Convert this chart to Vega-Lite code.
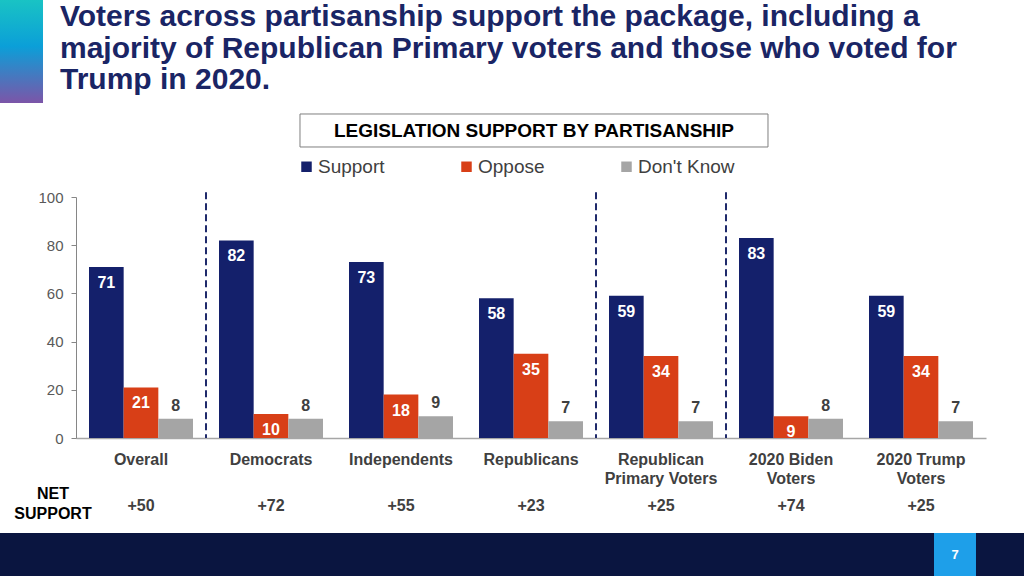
{
  "$schema": "https://vega.github.io/schema/vega-lite/v6.json",
  "width": 910,
  "height": 241,
  "autosize": {"type": "none"},
  "padding": {"left": 76, "top": 197, "right": 38, "bottom": 138},
  "background": "white",
  "config": {"view": {"stroke": null}, "font": "Liberation Sans"},
  "datasets": {
    "bars": [
      {"group": "Overall", "type": "Support", "value": 71},
      {"group": "Overall", "type": "Oppose", "value": 21},
      {"group": "Overall", "type": "Don't Know", "value": 8},
      {"group": "Democrats", "type": "Support", "value": 82},
      {"group": "Democrats", "type": "Oppose", "value": 10},
      {"group": "Democrats", "type": "Don't Know", "value": 8},
      {"group": "Independents", "type": "Support", "value": 73},
      {"group": "Independents", "type": "Oppose", "value": 18},
      {"group": "Independents", "type": "Don't Know", "value": 9},
      {"group": "Republicans", "type": "Support", "value": 58},
      {"group": "Republicans", "type": "Oppose", "value": 35},
      {"group": "Republicans", "type": "Don't Know", "value": 7},
      {"group": "Republican Primary Voters", "type": "Support", "value": 59},
      {"group": "Republican Primary Voters", "type": "Oppose", "value": 34},
      {"group": "Republican Primary Voters", "type": "Don't Know", "value": 7},
      {"group": "2020 Biden Voters", "type": "Support", "value": 83},
      {"group": "2020 Biden Voters", "type": "Oppose", "value": 9},
      {"group": "2020 Biden Voters", "type": "Don't Know", "value": 8},
      {"group": "2020 Trump Voters", "type": "Support", "value": 59},
      {"group": "2020 Trump Voters", "type": "Oppose", "value": 34},
      {"group": "2020 Trump Voters", "type": "Don't Know", "value": 7}
    ],
    "net": [
      {"group": "Overall", "net": 50},
      {"group": "Democrats", "net": 72},
      {"group": "Independents", "net": 55},
      {"group": "Republicans", "net": 23},
      {"group": "Republican Primary Voters", "net": 25},
      {"group": "2020 Biden Voters", "net": 74},
      {"group": "2020 Trump Voters", "net": 25}
    ],
    "separators": [
      {"group": "Democrats"},
      {"group": "Republican Primary Voters"},
      {"group": "2020 Biden Voters"}
    ]
  },
  "layer": [
    {
      "layer": [
        {
          "data": {"name": "bars"},
          "mark": {"type": "bar"},
          "encoding": {
            "x": {
              "field": "group", "type": "nominal", "title": null,
              "scale": {"domain": ["Overall", "Democrats", "Independents", "Republicans", "Republican Primary Voters", "2020 Biden Voters", "2020 Trump Voters"], "paddingInner": 0.2, "paddingOuter": 0.1},
              "axis": {
                "labelAngle": 0, "ticks": false, "labelFontSize": 16, "labelFontWeight": "bold",
                "labelColor": "#404040", "labelPadding": 13, "labelLineHeight": 19, "labelLimit": 0,
                "domainColor": "#a6a6a6", "domainWidth": 1.5, "labelBaseline": "top",
                "labelExpr": "datum.value == 'Republican Primary Voters' ? ['Republican', 'Primary Voters'] : datum.value == '2020 Biden Voters' ? ['2020 Biden', 'Voters'] : datum.value == '2020 Trump Voters' ? ['2020 Trump', 'Voters'] : datum.value"
              }
            },
            "xOffset": {"field": "type", "type": "nominal", "scale": {"domain": ["Support", "Oppose", "Don't Know"], "paddingInner": 0, "paddingOuter": 0}},
            "y": {
              "field": "value", "type": "quantitative", "title": null,
              "scale": {"domain": [0, 100], "nice": false},
              "axis": {"values": [0, 20, 40, 60, 80, 100], "grid": false, "labelFontSize": 15, "labelColor": "#595959", "domainColor": "#868686", "tickColor": "#868686", "tickSize": 5, "labelPadding": 8}
            },
            "color": {
              "field": "type", "type": "nominal",
              "scale": {"domain": ["Support", "Oppose", "Don't Know"], "range": ["#14206b", "#d83f17", "#a5a5a5"]},
              "legend": {
                "orient": "none", "legendX": 221, "legendY": -40, "direction": "horizontal", "columns": 3,
                "gridAlign": "all", "columnPadding": 42, "title": null, "symbolType": "square", "symbolSize": 110,
                "labelFontSize": 19, "labelColor": "#404040", "symbolStrokeWidth": 0, "labelOffset": 2, "padding": 0
              }
            }
          }
        },
        {
          "data": {"name": "bars"},
          "transform": [{"filter": "datum.type != \"Don't Know\""}],
          "mark": {"type": "text", "color": "white", "fontSize": 16, "fontWeight": "bold", "baseline": "middle", "dy": 16},
          "encoding": {
            "x": {"field": "group", "type": "nominal", "title": null},
            "xOffset": {"field": "type", "type": "nominal"},
            "y": {"field": "value", "type": "quantitative"},
            "text": {"field": "value", "type": "quantitative"}
          }
        },
        {
          "data": {"name": "bars"},
          "transform": [{"filter": "datum.type == \"Don't Know\""}],
          "mark": {"type": "text", "color": "#404040", "fontSize": 16, "fontWeight": "bold", "baseline": "middle", "dy": -13},
          "encoding": {
            "x": {"field": "group", "type": "nominal", "title": null},
            "xOffset": {"field": "type", "type": "nominal"},
            "y": {"field": "value", "type": "quantitative"},
            "text": {"field": "value", "type": "quantitative"}
          }
        },
        {
          "data": {"name": "net"},
          "mark": {"type": "text", "color": "#404040", "fontSize": 16, "fontWeight": "bold", "baseline": "middle"},
          "encoding": {
            "x": {"field": "group", "type": "nominal", "title": null},
            "y": {"datum": -28.2},
            "text": {"field": "net", "type": "quantitative", "format": "+d"}
          }
        },
        {
          "data": {"name": "separators"},
          "mark": {"type": "rule", "color": "#1f2a6b", "strokeWidth": 2, "strokeDash": [7, 4]},
          "encoding": {
            "x": {"field": "group", "type": "nominal", "title": null, "bandPosition": -0.125},
            "y": {"datum": 102},
            "y2": {"datum": 0}
          }
        }
      ]
    },
    {
      "layer": [
        {
          "data": {"values": [{}]},
          "mark": {"type": "rect", "color": {"gradient": "linear", "x1": 0, "y1": 0, "x2": 0, "y2": 1, "stops": [{"offset": 0, "color": "#19c3c4"}, {"offset": 0.45, "color": "#0b9fd8"}, {"offset": 1, "color": "#7c55a8"}]}},
          "encoding": {
            "x": {"datum": -0.5846, "type": "quantitative", "scale": {"domain": [0, 7], "nice": false, "zero": false}, "axis": null},
            "x2": {"datum": -0.2538},
            "y": {"datum": 181.74},
            "y2": {"datum": 139.0}
          }
        },
        {
          "data": {"values": [{}]},
          "mark": {"type": "text", "color": "#1a2565", "fontSize": 30, "fontWeight": "bold", "baseline": "alphabetic", "align": "left", "lineHeight": 31.5},
          "encoding": {
            "x": {"datum": -0.123, "type": "quantitative", "axis": null},
            "y": {"datum": 170.95},
            "text": {"value": ["Voters across partisanship support the package, including a", "majority of Republican Primary voters and those who voted for", "Trump in 2020."]}
          }
        },
        {
          "data": {"values": [{}]},
          "mark": {"type": "rect", "color": "#0a1540"},
          "encoding": {
            "x": {"datum": -0.5846, "type": "quantitative", "axis": null},
            "x2": {"datum": 7.3},
            "y": {"datum": -39.42},
            "y2": {"datum": -58}
          }
        },
        {
          "data": {"values": [{}]},
          "mark": {"type": "rect", "color": "#1e9fe9"},
          "encoding": {
            "x": {"datum": 6.6, "type": "quantitative", "axis": null},
            "x2": {"datum": 6.923},
            "y": {"datum": -39.42},
            "y2": {"datum": -58}
          }
        },
        {
          "data": {"values": [{}]},
          "mark": {"type": "text", "color": "white", "fontSize": 13, "fontWeight": "bold", "baseline": "middle", "align": "center"},
          "encoding": {
            "x": {"datum": 6.762, "type": "quantitative", "axis": null},
            "y": {"datum": -48.5},
            "text": {"value": "7"}
          }
        },
        {
          "data": {"values": [{}]},
          "mark": {"type": "rect", "fill": "white", "stroke": "#7f7f7f", "strokeWidth": 1},
          "encoding": {
            "x": {"datum": 1.723, "type": "quantitative", "axis": null},
            "x2": {"datum": 5.323},
            "y": {"datum": 134.44},
            "y2": {"datum": 120.75}
          }
        },
        {
          "data": {"values": [{}]},
          "mark": {"type": "text", "color": "black", "fontSize": 19, "fontWeight": "bold", "baseline": "middle", "align": "center"},
          "encoding": {
            "x": {"datum": 3.523, "type": "quantitative", "axis": null},
            "y": {"datum": 127.39},
            "text": {"value": "LEGISLATION SUPPORT BY PARTISANSHIP"}
          }
        },
        {
          "data": {"values": [{}]},
          "mark": {"type": "text", "color": "black", "fontSize": 16, "fontWeight": "bold", "baseline": "middle", "align": "center", "lineHeight": 20},
          "encoding": {
            "x": {"datum": -0.177, "type": "quantitative", "axis": null},
            "y": {"datum": -23.24},
            "text": {"value": ["NET", "SUPPORT"]}
          }
        }
      ]
    }
  ],
  "resolve": {"scale": {"x": "independent"}}
}
